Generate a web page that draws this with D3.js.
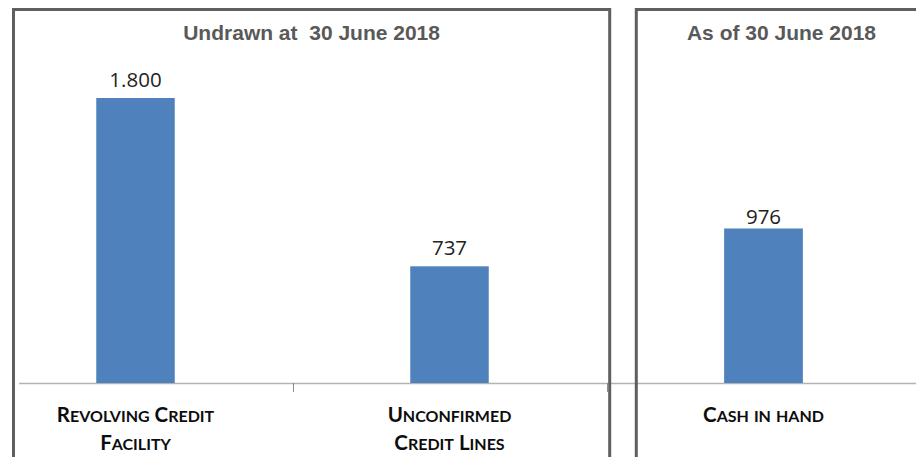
<!DOCTYPE html>
<html>
<head>
<meta charset="utf-8">
<script src="https://cdn.jsdelivr.net/npm/d3@7"></script>
<style>
  html, body { margin: 0; padding: 0; background: #fff; }
  svg { display: block; }
</style>
</head>
<body>
<svg id="chart" width="916" height="457"></svg>
<script>
// Liquidity position as of 30 June 2018 (EUR m)
const undrawnCategories = ["Revolving Credit|Facility", "Unconfirmed|Credit Lines"];
const undrawnValues = [1800, 737];
const undrawnLabels = ["1.800", "737"];

const cashCategories = ["Cash in hand"];
const cashValues = [976];
const cashLabels = ["976"];

const panelTitles = ["Undrawn at  30 June 2018", "As of 30 June 2018"];

const W = 916, H = 457;
const svg = d3.select("#chart");

const baseY = 383;
const y = d3.scaleLinear().domain([0, 1800]).range([baseY, 98]);

const barColor = "#4f81bd";
const frameColor = "#5f5f5f";

// Category bands for the two panels
const xLeft = d3.scaleBand().domain(undrawnCategories).range([-21.5, 606.5]).paddingInner(0.75).paddingOuter(0.375);
const xRight = d3.scaleBand().domain(cashCategories).range([606, 921]).paddingInner(0.75).paddingOuter(0.375);

// Shared baseline across both panels
svg.append("line")
  .attr("x1", 19).attr("x2", W)
  .attr("y1", baseY + 0.5).attr("y2", baseY + 0.5)
  .attr("stroke", "#b3b3b3").attr("stroke-width", 1.5);

// Category boundary ticks in the left panel
const leftTicks = [xLeft.range()[0] + xLeft.step(), xLeft.range()[1]];
svg.selectAll("line.tick").data(leftTicks).join("line")
  .attr("class", "tick")
  .attr("x1", d => Math.round(d) + 0.5).attr("x2", d => Math.round(d) + 0.5)
  .attr("y1", baseY).attr("y2", baseY + 9)
  .attr("stroke", "#8c8c8c").attr("stroke-width", 1);

function drawBars(x, cats, vals, labels, labelGap) {
  const g = svg.append("g");
  g.selectAll("rect").data(vals).join("rect")
    .attr("x", (d, i) => x(cats[i]))
    .attr("width", x.bandwidth())
    .attr("y", d => y(d))
    .attr("height", d => baseY - y(d))
    .attr("fill", barColor);
  g.selectAll("text.val").data(vals).join("text")
    .attr("class", "val")
    .attr("x", (d, i) => x(cats[i]) + x.bandwidth() / 2)
    .attr("y", d => y(d) - labelGap)
    .attr("text-anchor", "middle")
    .attr("font-family", "'Open Sans', sans-serif")
    .attr("font-size", 20.5)
    .attr("fill", "#222")
    .text((d, i) => labels[i]);

  // Small-caps category names, one tspan run per case change
  cats.forEach((c, i) => {
    const lines = c.split("|");
    lines.forEach((line, li) => {
      const t = g.append("text")
        .attr("x", x(c) + x.bandwidth() / 2)
        .attr("y", 422 + li * 27.5)
        .attr("text-anchor", "middle")
        .attr("font-family", "Lato, 'Open Sans', sans-serif")
        .attr("font-weight", 700)
        .attr("fill", "#0d0d0d");
      const runs = [];
      for (const ch of line) {
        const big = ch !== ch.toLowerCase() || ch === " ";
        const last = runs[runs.length - 1];
        if (last && last.big === big) last.s += ch; else runs.push({ big, s: ch });
      }
      runs.forEach(r => {
        t.append("tspan")
          .attr("font-size", r.big ? 20.5 : 16)
          .text(r.s.toUpperCase());
      });
    });
  });
}

drawBars(xLeft, undrawnCategories, undrawnValues, undrawnLabels, 11);
drawBars(xRight, cashCategories, cashValues, cashLabels, 4);

// Panel frames
const frames = [
  { x0: 13.5, x1: 609.7 },
  { x0: 636.3, x1: 927 }
];
svg.selectAll("path.frame").data(frames).join("path")
  .attr("class", "frame")
  .attr("d", d => `M${d.x0},${H + 5}V9.5H${d.x1}V${H + 5}`)
  .attr("fill", "none")
  .attr("stroke", frameColor)
  .attr("stroke-width", 3);

// Panel titles
svg.selectAll("text.title").data(panelTitles).join("text")
  .attr("class", "title")
  .attr("x", (d, i) => i === 0 ? (frames[0].x0 + frames[0].x1) / 2 : 781.5)
  .attr("y", 40)
  .attr("text-anchor", "middle")
  .attr("font-family", "'Liberation Sans', Arial, sans-serif")
  .attr("font-weight", 700)
  .attr("font-size", 21)
  .attr("fill", "#595959")
  .style("white-space", "pre")
  .text(d => d);
</script>
</body>
</html>
